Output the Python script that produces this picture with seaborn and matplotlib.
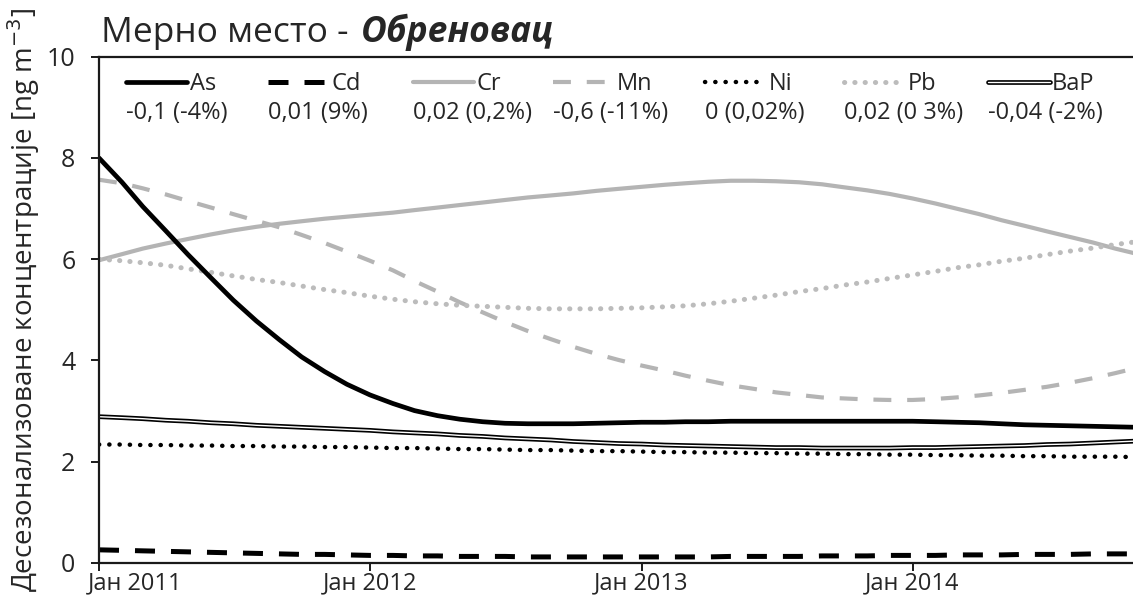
import pandas as pd
import matplotlib.pyplot as plt
import matplotlib.patheffects as pe
from matplotlib.transforms import ScaledTranslation
import seaborn as sns

# Monthly deseasonalised concentrations, Jan 2011 - Nov 2014
months = pd.date_range('2011-01-01', periods=47, freq='MS')

as_vals = [8.00, 7.52, 7.04, 6.56, 6.09, 5.63, 5.19, 4.78, 4.41, 4.07,
           3.78, 3.53, 3.32, 3.15, 3.01, 2.91, 2.84, 2.79, 2.76, 2.75,
           2.75, 2.75, 2.76, 2.77, 2.78, 2.78, 2.79, 2.79, 2.80, 2.80,
           2.80, 2.80, 2.80, 2.80, 2.80, 2.80, 2.80, 2.79, 2.78, 2.77,
           2.75, 2.73, 2.72, 2.71, 2.70, 2.69, 2.68]
cd_vals = [0.26, 0.25, 0.24, 0.23, 0.22, 0.21, 0.20, 0.19, 0.18, 0.17,
           0.17, 0.16, 0.15, 0.15, 0.14, 0.14, 0.13, 0.13, 0.13, 0.12,
           0.12, 0.12, 0.12, 0.12, 0.12, 0.12, 0.12, 0.12, 0.13, 0.13,
           0.13, 0.13, 0.14, 0.14, 0.14, 0.15, 0.15, 0.15, 0.16, 0.16,
           0.16, 0.17, 0.17, 0.17, 0.18, 0.18, 0.18]
cr_vals = [5.98, 6.10, 6.21, 6.31, 6.40, 6.49, 6.57, 6.64, 6.70, 6.75,
           6.80, 6.84, 6.88, 6.92, 6.97, 7.02, 7.07, 7.12, 7.17, 7.22,
           7.26, 7.30, 7.35, 7.39, 7.43, 7.47, 7.50, 7.53, 7.55, 7.55,
           7.54, 7.52, 7.48, 7.42, 7.36, 7.29, 7.20, 7.10, 7.00, 6.89,
           6.77, 6.66, 6.55, 6.44, 6.33, 6.21, 6.10]
mn_vals = [7.57, 7.50, 7.40, 7.28, 7.15, 7.02, 6.89, 6.76, 6.63, 6.48,
           6.32, 6.15, 5.97, 5.78, 5.57, 5.36, 5.15, 4.95, 4.76, 4.58,
           4.42, 4.27, 4.13, 4.01, 3.90, 3.80, 3.70, 3.60, 3.51, 3.44,
           3.37, 3.32, 3.27, 3.25, 3.23, 3.22, 3.22, 3.24, 3.27, 3.31,
           3.36, 3.42, 3.48, 3.56, 3.65, 3.75, 3.86]
ni_vals = [2.34, 2.34, 2.33, 2.33, 2.32, 2.32, 2.31, 2.31, 2.30, 2.30,
           2.29, 2.29, 2.28, 2.27, 2.27, 2.26, 2.25, 2.25, 2.24, 2.23,
           2.23, 2.22, 2.21, 2.21, 2.20, 2.19, 2.19, 2.18, 2.18, 2.17,
           2.17, 2.16, 2.16, 2.15, 2.15, 2.14, 2.14, 2.13, 2.13, 2.12,
           2.12, 2.11, 2.11, 2.10, 2.10, 2.10, 2.09]
pb_vals = [6.00, 5.97, 5.93, 5.88, 5.81, 5.74, 5.67, 5.60, 5.54, 5.47,
           5.40, 5.34, 5.27, 5.21, 5.16, 5.12, 5.09, 5.07, 5.05, 5.03,
           5.02, 5.02, 5.02, 5.03, 5.04, 5.06, 5.08, 5.12, 5.17, 5.23,
           5.29, 5.36, 5.42, 5.49, 5.55, 5.62, 5.69, 5.76, 5.83, 5.89,
           5.96, 6.02, 6.09, 6.16, 6.22, 6.29, 6.35]
bap_vals = [2.89, 2.87, 2.85, 2.82, 2.80, 2.77, 2.75, 2.72, 2.70, 2.68,
            2.66, 2.64, 2.62, 2.59, 2.57, 2.55, 2.52, 2.50, 2.47, 2.45,
            2.43, 2.40, 2.38, 2.36, 2.35, 2.33, 2.32, 2.31, 2.30, 2.29,
            2.28, 2.28, 2.27, 2.27, 2.27, 2.27, 2.28, 2.28, 2.29, 2.30,
            2.31, 2.32, 2.34, 2.35, 2.37, 2.39, 2.41]

species = ['As', 'Cd', 'Cr', 'Mn', 'Ni', 'Pb', 'BaP']
trend_labels = ['-0,1 (-4%)', '0,01 (9%)', '0,02 (0,2%)', '-0,6 (-11%)',
                '0 (0,02%)', '0,02 (0 3%)', '-0,04 (-2%)']
tick_dates = pd.to_datetime(['2011-01-01', '2012-01-01', '2013-01-01', '2014-01-01'])
tick_labels = ['Јан 2011', 'Јан 2012', 'Јан 2013', 'Јан 2014']

series = {'As': as_vals, 'Cd': cd_vals, 'Cr': cr_vals, 'Mn': mn_vals,
          'Ni': ni_vals, 'Pb': pb_vals, 'BaP': bap_vals}

grey = '#b4b4b4'
styles = {
    'Cr': dict(color=grey, lw=3.0, linestyle='-'),
    'Mn': dict(color=grey, lw=3.0, linestyle=(0, (4.3, 3.8))),
    'Pb': dict(color='#bcbcbc', lw=3.6, linestyle=(0, (0.05, 2.01)), dash_capstyle='round'),
    'Cd': dict(color='black', lw=3.6, linestyle=(0, (4.0, 3.2))),
    'Ni': dict(color='black', lw=3.2, linestyle=(0, (0.05, 2.26)), dash_capstyle='round'),
    'BaP': dict(color='white', lw=1.0, linestyle='-',
                path_effects=[pe.Stroke(linewidth=3.4, foreground='black'), pe.Normal()]),
    'As': dict(color='black', lw=3.4, linestyle='-'),
}

sns.set_style('ticks')
plt.rcParams['font.family'] = ['Open Sans', 'DejaVu Sans']

W, H = 1133, 603
fig = plt.figure(figsize=(W / 100, H / 100), dpi=100)
ax = fig.add_axes([99 / W, 1 - 563 / H, 1 - 99 / W, (563 - 56.7) / H])

handles = {}
for name in ['Cr', 'Mn', 'Pb', 'Cd', 'Ni', 'BaP', 'As']:
    sns.lineplot(x=months, y=series[name], ax=ax, **styles[name])
    handles[name] = ax.get_lines()[-1]

ax.set_ylim(0, 10)
ax.set_yticks([0, 2, 4, 6, 8, 10])
ax.set_xlim(pd.Timestamp('2011-01-01'), pd.Timestamp('2014-10-25'))
ax.set_xticks(tick_dates)
ax.set_xticklabels(tick_labels)
ax.set_xlabel('')

for side in ['left', 'bottom', 'top']:
    ax.spines[side].set_linewidth(1.6)
    ax.spines[side].set_color('#1a1a1a')
ax.spines['right'].set_visible(False)
ax.tick_params(axis='both', direction='out', length=6, width=1.4, color='#1a1a1a')
ax.tick_params(axis='y', labelsize=18, pad=11)
ax.tick_params(axis='x', labelsize=17, pad=0)

ax.set_ylabel('Десезонализоване концентрације [ng m$^{-3}$]', fontsize=20)
ax.yaxis.set_label_coords(-0.055, 0.52)

leg = ax.legend([handles[s] for s in species], species, ncol=7, frameon=False,
                loc='upper left', bbox_to_anchor=(126 / W, 1 - 72 / H),
                bbox_transform=fig.transFigure, borderaxespad=0, borderpad=0,
                handlelength=2.6, handletextpad=0.1, columnspacing=2.2, fontsize=17)

t1 = fig.text(101 / W, 1 - 42 / H, 'Мерно место -', fontsize=25.5, va='baseline')

fig.canvas.draw()
renderer = fig.canvas.get_renderer()

# second part of the title in bold italic
bb = t1.get_window_extent(renderer)
fig.text((bb.x1 + 12) / W, 1 - 42 / H, 'Обреновац', fontsize=25.5,
         fontweight='bold', fontstyle='italic', va='baseline')

# trend values under each legend entry
for h, lab in zip(leg.legend_handles, trend_labels):
    hb = h.get_window_extent(renderer)
    fig.text(hb.x0 / W, 1 - 113 / H, lab, fontsize=17, va='center', ha='left')

# first month label sits to the right of its tick
first = ax.get_xticklabels()[0]
first.set_transform(first.get_transform() + ScaledTranslation(0.36, 0, fig.dpi_scale_trans))

fig.savefig('out.png', dpi=100)
